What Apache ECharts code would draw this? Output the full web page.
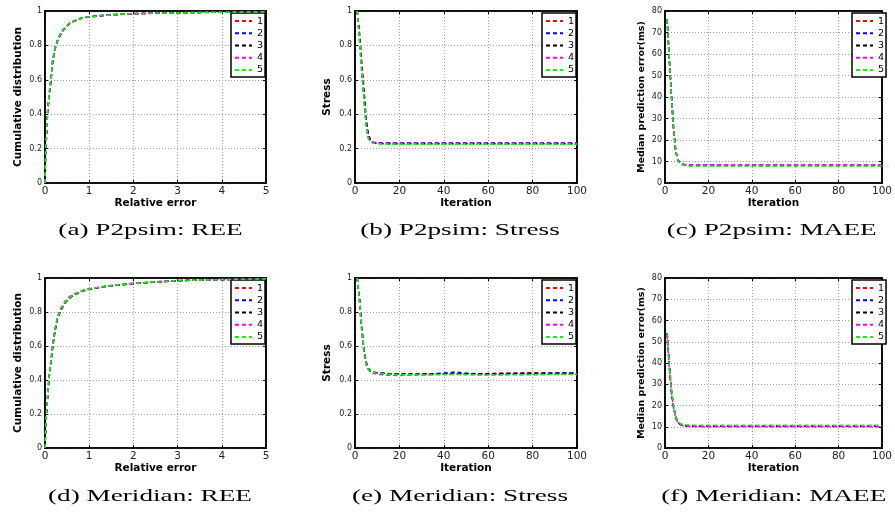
<!DOCTYPE html>
<html><head><meta charset="utf-8">
<script src="https://cdn.jsdelivr.net/npm/echarts@6/dist/echarts.min.js"></script>
<style>html,body{margin:0;padding:0;background:#fff}#c{width:895px;height:516px}</style>
</head><body><div id="c"></div>
<script>
// ---------- data ----------
const seriesNames = ['1', '2', '3', '4', '5'];
const seriesColors = ['#ff0000', '#0000ff', '#000000', '#ff00ff', '#00ff00'];

// (a) P2psim REE: CDF of relative error
const reeP2pX = [0, 0.015, 0.04, 0.055, 0.09, 0.135, 0.17, 0.225, 0.3, 0.41, 0.56, 0.79, 1.0, 1.4, 1.9, 2.5, 3, 3.5, 4, 4.5, 5];
const reeP2pY = [
  [0, 0.19, 0.29, 0.39, 0.49, 0.59, 0.69, 0.775, 0.835, 0.887, 0.928, 0.955, 0.965, 0.975, 0.983, 0.987, 0.990, 0.991, 0.993, 0.994, 0.995],
  [0, 0.21, 0.31, 0.41, 0.51, 0.61, 0.71, 0.785, 0.845, 0.892, 0.932, 0.957, 0.967, 0.977, 0.984, 0.988, 0.991, 0.992, 0.993, 0.994, 0.995],
  [0, 0.20, 0.30, 0.395, 0.495, 0.595, 0.695, 0.78, 0.84, 0.888, 0.930, 0.955, 0.966, 0.976, 0.983, 0.988, 0.990, 0.992, 0.993, 0.994, 0.995],
  [0, 0.20, 0.305, 0.405, 0.505, 0.605, 0.705, 0.782, 0.842, 0.891, 0.931, 0.956, 0.966, 0.976, 0.984, 0.988, 0.990, 0.992, 0.993, 0.994, 0.995],
  [0, 0.20, 0.30, 0.40, 0.50, 0.60, 0.70, 0.78, 0.84, 0.89, 0.93, 0.956, 0.966, 0.976, 0.984, 0.988, 0.990, 0.992, 0.993, 0.994, 0.995]
];

// (b) P2psim Stress
const stressP2pX = [1, 2, 3, 4, 5, 6, 7, 8, 9, 10, 12, 15, 20, 30, 40, 50, 60, 70, 80, 90, 100];
const stressP2pY = [
  [1.0, 0.85, 0.67, 0.51, 0.35, 0.265, 0.242, 0.236, 0.234, 0.233, 0.232, 0.232, 0.231, 0.231, 0.231, 0.231, 0.231, 0.231, 0.231, 0.231, 0.231],
  [1.0, 0.85, 0.67, 0.51, 0.35, 0.266, 0.243, 0.237, 0.235, 0.234, 0.233, 0.233, 0.233, 0.233, 0.233, 0.233, 0.233, 0.233, 0.233, 0.233, 0.233],
  [1.0, 0.88, 0.71, 0.55, 0.38, 0.285, 0.25, 0.238, 0.233, 0.231, 0.229, 0.228, 0.228, 0.228, 0.228, 0.228, 0.228, 0.228, 0.228, 0.228, 0.228],
  [1.0, 0.83, 0.65, 0.49, 0.34, 0.26, 0.24, 0.234, 0.232, 0.231, 0.230, 0.229, 0.229, 0.229, 0.229, 0.229, 0.229, 0.229, 0.229, 0.229, 0.229],
  [1.0, 0.84, 0.66, 0.50, 0.34, 0.26, 0.238, 0.232, 0.229, 0.228, 0.227, 0.226, 0.226, 0.226, 0.226, 0.226, 0.226, 0.226, 0.226, 0.226, 0.226]
];

// (c) P2psim MAEE (ms)
const maeeP2pX = [1, 2, 3, 4, 5, 6, 7, 8, 9, 10, 12, 15, 20, 30, 40, 50, 60, 70, 80, 90, 100];
const maeeP2pY = [
  [76, 57.5, 40.5, 24.5, 14.6, 10.6, 9.3, 8.7, 8.4, 8.2, 8.1, 8.1, 8.1, 8.1, 8.1, 8.1, 8.1, 8.1, 8.1, 8.1, 8.1],
  [76, 57.5, 40.5, 24.5, 14.6, 10.7, 9.4, 8.8, 8.5, 8.4, 8.3, 8.3, 8.3, 8.3, 8.3, 8.3, 8.3, 8.3, 8.3, 8.3, 8.3],
  [76, 57, 40, 24, 14.4, 10.5, 9.2, 8.6, 8.3, 8.2, 8.1, 8.1, 8.1, 8.1, 8.1, 8.1, 8.1, 8.1, 8.1, 8.1, 8.1],
  [76, 57.5, 40.5, 24.5, 14.7, 10.8, 9.5, 8.9, 8.6, 8.5, 8.4, 8.4, 8.4, 8.4, 8.4, 8.4, 8.4, 8.4, 8.4, 8.4, 8.4],
  [76, 57, 40, 24, 14.3, 10.4, 9.1, 8.5, 8.2, 8.0, 7.9, 7.9, 7.9, 7.9, 7.9, 7.9, 7.9, 7.9, 7.9, 7.9, 7.9]
];

// (d) Meridian REE
const reeMerX = [0, 0.02, 0.05, 0.09, 0.135, 0.17, 0.225, 0.28, 0.35, 0.44, 0.53, 0.64, 0.86, 1.0, 1.4, 2.0, 2.5, 3, 3.5, 4, 4.5, 5];
const reeMerY = [
  [0, 0.15, 0.27, 0.41, 0.51, 0.59, 0.69, 0.76, 0.81, 0.85, 0.88, 0.90, 0.925, 0.935, 0.952, 0.968, 0.977, 0.984, 0.988, 0.991, 0.993, 0.995],
  [0, 0.15, 0.27, 0.41, 0.51, 0.59, 0.69, 0.76, 0.81, 0.85, 0.88, 0.90, 0.925, 0.935, 0.952, 0.968, 0.977, 0.984, 0.988, 0.991, 0.993, 0.995],
  [0, 0.145, 0.265, 0.405, 0.505, 0.585, 0.685, 0.755, 0.805, 0.847, 0.877, 0.898, 0.923, 0.934, 0.951, 0.967, 0.976, 0.984, 0.988, 0.991, 0.993, 0.995],
  [0, 0.16, 0.28, 0.42, 0.52, 0.60, 0.70, 0.77, 0.82, 0.858, 0.886, 0.905, 0.928, 0.937, 0.953, 0.969, 0.977, 0.985, 0.988, 0.991, 0.993, 0.995],
  [0, 0.15, 0.27, 0.41, 0.51, 0.59, 0.69, 0.76, 0.81, 0.85, 0.88, 0.90, 0.925, 0.935, 0.952, 0.968, 0.977, 0.984, 0.988, 0.991, 0.993, 0.995]
];

// (e) Meridian Stress
const stressMerX = [1, 2, 3, 4, 5, 6, 7, 8, 10, 15, 20, 25, 30, 35, 40, 45, 50, 55, 60, 65, 70, 80, 90, 100];
const stressMerY = [
  [1.0, 0.87, 0.70, 0.57, 0.50, 0.465, 0.452, 0.445, 0.440, 0.435, 0.432, 0.432, 0.433, 0.434, 0.436, 0.437, 0.436, 0.435, 0.438, 0.439, 0.440, 0.442, 0.441, 0.442],
  [1.0, 0.89, 0.72, 0.59, 0.51, 0.470, 0.455, 0.447, 0.442, 0.438, 0.436, 0.435, 0.436, 0.437, 0.441, 0.447, 0.440, 0.437, 0.437, 0.438, 0.439, 0.440, 0.441, 0.442],
  [1.0, 0.88, 0.71, 0.58, 0.50, 0.468, 0.453, 0.446, 0.441, 0.437, 0.435, 0.434, 0.433, 0.434, 0.436, 0.438, 0.437, 0.436, 0.436, 0.436, 0.437, 0.438, 0.438, 0.438],
  [1.0, 0.86, 0.69, 0.56, 0.49, 0.460, 0.447, 0.440, 0.433, 0.428, 0.427, 0.428, 0.430, 0.432, 0.434, 0.435, 0.433, 0.431, 0.430, 0.431, 0.432, 0.433, 0.434, 0.434],
  [1.0, 0.88, 0.71, 0.575, 0.50, 0.466, 0.452, 0.445, 0.439, 0.434, 0.432, 0.431, 0.430, 0.430, 0.431, 0.432, 0.431, 0.430, 0.430, 0.430, 0.431, 0.431, 0.432, 0.432]
];

// (f) Meridian MAEE (ms)
const maeeMerX = [1, 2, 3, 4, 5, 6, 7, 8, 10, 15, 20, 30, 40, 50, 60, 70, 80, 90, 100];
const maeeMerY = [
  [54, 38.5, 26.5, 19, 14.3, 12.2, 11.3, 10.9, 10.6, 10.5, 10.5, 10.5, 10.5, 10.5, 10.5, 10.5, 10.5, 10.5, 10.5],
  [54, 38.5, 26.5, 19, 14.3, 12.1, 11.2, 10.8, 10.5, 10.4, 10.4, 10.4, 10.4, 10.4, 10.4, 10.4, 10.4, 10.4, 10.4],
  [54, 38.5, 26.5, 19, 14.2, 12.0, 11.1, 10.7, 10.4, 10.3, 10.3, 10.3, 10.3, 10.3, 10.3, 10.3, 10.3, 10.3, 10.3],
  [53, 38, 26, 18.5, 14.0, 11.9, 11.0, 10.6, 10.2, 10.0, 10.0, 10.0, 10.0, 10.0, 10.0, 10.0, 10.0, 10.0, 10.0],
  [54, 38.5, 26.5, 19, 14.4, 12.3, 11.5, 11.1, 10.8, 10.7, 10.7, 10.7, 10.7, 10.7, 10.7, 10.7, 10.7, 10.7, 10.7]
];

const captions = ['(a) P2psim: REE', '(b) P2psim: Stress', '(c) P2psim: MAEE',
                  '(d) Meridian: REE', '(e) Meridian: Stress', '(f) Meridian: MAEE'];
const xNames = ['Relative error', 'Iteration', 'Iteration', 'Relative error', 'Iteration', 'Iteration'];
const yNames = ['Cumulative distribution', 'Stress', 'Median prediction error(ms)',
                'Cumulative distribution', 'Stress', 'Median prediction error(ms)'];
const xMaxes = [5, 100, 100, 5, 100, 100];
const xSteps = [1, 20, 20, 1, 20, 20];
const yMaxes = [1, 1, 80, 1, 1, 80];
const ySteps = [0.2, 0.2, 10, 0.2, 0.2, 10];

// ---------- layout ----------
const panelXs = [reeP2pX, stressP2pX, maeeP2pX, reeMerX, stressMerX, maeeMerX];
const panelYs = [reeP2pY, stressP2pY, maeeP2pY, reeMerY, stressMerY, maeeMerY];
const grids = [
  {left: 45, top: 11, width: 221, height: 172},
  {left: 355, top: 11, width: 222, height: 172},
  {left: 665, top: 11, width: 222, height: 172},
  {left: 45, top: 278, width: 221, height: 170},
  {left: 355, top: 278, width: 222, height: 170},
  {left: 665, top: 278, width: 222, height: 170}
];
const yNameGaps = [21, 22, 18, 21, 22, 18];
const yNameSizes = [10.5, 10.5, 9.5, 10.5, 10.5, 9.5];
const capPos = [[150.5, 230.5], [460, 230.5], [771.7, 230.5], [150, 496.5], [460, 496.5], [773.7, 496.5]];

const tickFont = 'DejaVu Sans';
const xAxes = [], yAxes = [], series = [], legends = [], graphics = [];
grids.forEach((g, i) => {
  xAxes.push({
    type: 'value', gridIndex: i, min: 0, max: xMaxes[i], interval: xSteps[i],
    name: xNames[i], nameLocation: 'middle', nameGap: 14,
    nameTextStyle: {fontFamily: tickFont, fontWeight: 'bold', fontSize: 10.5, color: '#000'},
    axisLine: {show: true, onZero: false, lineStyle: {color: '#000', width: 1.6}},
    axisTick: {show: true, inside: true, length: 3, lineStyle: {color: '#000', width: 1}},
    axisLabel: {fontFamily: tickFont, fontSize: 10.5, color: '#222', margin: 3},
    splitLine: {show: true, lineStyle: {type: [1, 2], color: '#999', width: 1}}
  });
  yAxes.push({
    type: 'value', gridIndex: i, min: 0, max: yMaxes[i], interval: ySteps[i],
    name: yNames[i], nameLocation: 'middle', nameGap: yNameGaps[i], nameRotate: 90,
    nameTextStyle: {fontFamily: tickFont, fontWeight: 'bold', fontSize: yNameSizes[i], color: '#000'},
    axisLine: {show: true, onZero: false, lineStyle: {color: '#000', width: 1.6}},
    axisTick: {show: true, inside: true, length: 3, lineStyle: {color: '#000', width: 1}},
    axisLabel: {fontFamily: tickFont, fontSize: 8, color: '#222', margin: 3},
    splitLine: {show: true, lineStyle: {type: [1, 2], color: '#999', width: 1}}
  });
});
grids.forEach((g, i) => {
  xAxes.push({
    type: 'value', gridIndex: i, position: 'top', min: 0, max: xMaxes[i], interval: xSteps[i],
    axisLine: {show: true, onZero: false, lineStyle: {color: '#000', width: 1.6}},
    axisTick: {show: true, inside: true, length: 3, lineStyle: {color: '#000', width: 1}},
    axisLabel: {show: false}, splitLine: {show: false}
  });
  yAxes.push({
    type: 'value', gridIndex: i, position: 'right', min: 0, max: yMaxes[i], interval: ySteps[i],
    axisLine: {show: true, onZero: false, lineStyle: {color: '#000', width: 1.6}},
    axisTick: {show: true, inside: true, length: 3, lineStyle: {color: '#000', width: 1}},
    axisLabel: {show: false}, splitLine: {show: false}
  });
});

grids.forEach((g, i) => {
  const xs = panelXs[i], ys = panelYs[i];
  seriesNames.forEach((nm, k) => {
    series.push({
      type: 'line', name: nm, xAxisIndex: i, yAxisIndex: i,
      data: xs.map((xv, j) => [xv, ys[k][j]]),
      symbol: 'none', showSymbol: false, silent: true,
      lineStyle: {color: seriesColors[k], width: 1.5, type: [4, 3]},
      itemStyle: {color: seriesColors[k]},
      z: 3 + k
    });
  });
  legends.push({
    left: g.left + g.width - 35, top: g.top + 2, orient: 'vertical',
    itemWidth: 17, itemHeight: 8, itemGap: 0, padding: [2, 2, 1, 3],
    borderColor: '#000', borderWidth: 1.5, backgroundColor: '#fff',
    selectedMode: false, data: seriesNames,
    itemStyle: {opacity: 0},
    textStyle: {fontFamily: tickFont, fontSize: 9.5, color: '#000', lineHeight: 12.2}
  });
  graphics.push({
    type: 'text', x: capPos[i][0], y: capPos[i][1], scaleX: 1.6, scaleY: 1,
    style: {text: captions[i], x: 0, y: 0, font: '17px "Liberation Serif"',
            align: 'center', verticalAlign: 'middle', textAlign: 'center', textVerticalAlign: 'middle', fill: '#000'}
  });
});

const chart = echarts.init(document.getElementById('c'), null, {renderer: 'canvas'});
chart.setOption({
  animation: false,
  backgroundColor: '#fff',
  grid: grids.map(g => Object.assign({show: true, borderColor: '#000', borderWidth: 1.6, backgroundColor: 'transparent', containLabel: false}, g)),
  xAxis: xAxes, yAxis: yAxes, series: series, legend: legends, graphic: graphics
});
</script></body></html>
